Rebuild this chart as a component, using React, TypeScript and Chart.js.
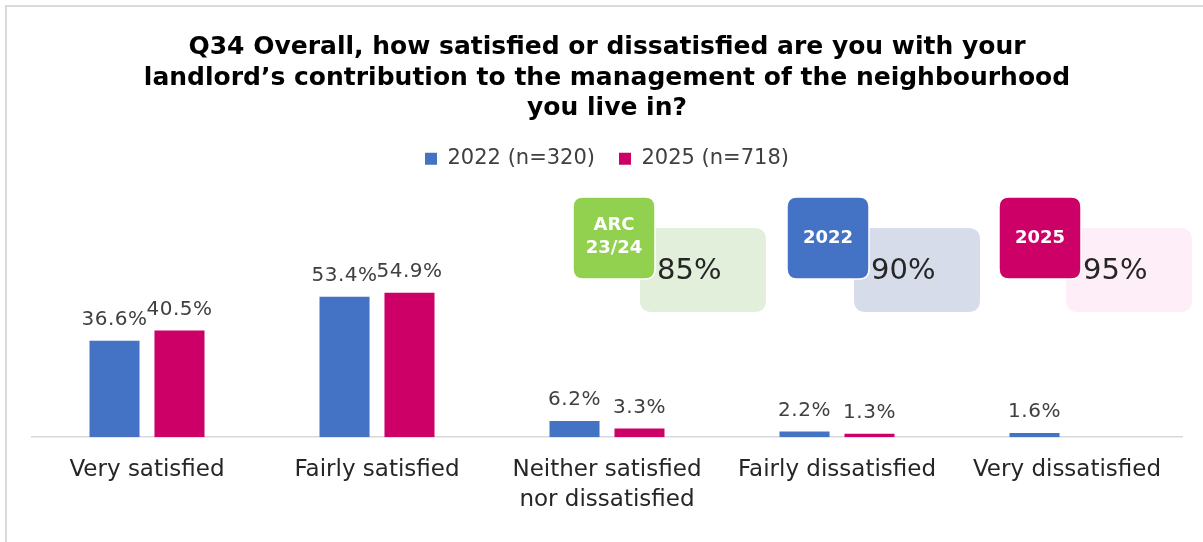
import React, { useEffect, useRef } from "react";
import { Chart, registerables } from "chart.js";

Chart.register(...registerables);

const categories: (string | string[])[] = [
  "Very satisfied",
  "Fairly satisfied",
  ["Neither satisfied", "nor dissatisfied"],
  "Fairly dissatisfied",
  "Very dissatisfied",
];
const values2022: (number | null)[] = [36.6, 53.4, 6.2, 2.2, 1.6];
const values2025: (number | null)[] = [40.5, 54.9, 3.3, 1.3, null];
const seriesLabels = ["2022 (n=320)", "2025 (n=718)"];
const seriesColors = ["#4472C4", "#CC0066"];
const titleLines = [
  "Q34 Overall, how satisfied or dissatisfied are you with your",
  "landlord\u2019s contribution to the management of the neighbourhood",
  "you live in?",
];
const badgeLabels = [["ARC", "23/24"], ["2022"], ["2025"]];
const badgeValues = ["85%", "90%", "95%"];
const badgeDark = ["#92D050", "#4472C4", "#CC0066"];
const badgeLight = ["#E2EFDA", "#D6DCE9", "#FDEEF7"];
const badgeOffsets = [541, 755, 967];

const FONT = "'DejaVu Sans', sans-serif";

function roundRect(ctx: CanvasRenderingContext2D, x: number, y: number, w: number, h: number, r: number) {
  ctx.beginPath();
  ctx.moveTo(x + r, y);
  ctx.lineTo(x + w - r, y);
  ctx.quadraticCurveTo(x + w, y, x + w, y + r);
  ctx.lineTo(x + w, y + h - r);
  ctx.quadraticCurveTo(x + w, y + h, x + w - r, y + h);
  ctx.lineTo(x + r, y + h);
  ctx.quadraticCurveTo(x, y + h, x, y + h - r);
  ctx.lineTo(x, y + r);
  ctx.quadraticCurveTo(x, y, x + r, y);
  ctx.closePath();
}

const extrasPlugin = {
  id: "extras",
  beforeDraw(chart: any) {
    const ctx = chart.ctx as CanvasRenderingContext2D;
    ctx.save();
    ctx.fillStyle = "#ffffff";
    ctx.fillRect(0, 0, chart.width, chart.height);
    ctx.strokeStyle = "#D9D9D9";
    ctx.lineWidth = 2;
    ctx.beginPath();
    ctx.moveTo(6, chart.height);
    ctx.lineTo(6, 6);
    ctx.lineTo(chart.width, 6);
    ctx.stroke();
    ctx.restore();
  },
  afterDatasetsDraw(chart: any) {
    const ctx = chart.ctx as CanvasRenderingContext2D;
    ctx.save();
    // value labels
    ctx.font = `20px ${FONT}`;
    (ctx as any).letterSpacing = "0.5px";
    ctx.fillStyle = "#404040";
    ctx.textAlign = "center";
    ctx.textBaseline = "bottom";
    chart.data.datasets.forEach((ds: any, di: number) => {
      const meta = chart.getDatasetMeta(di);
      meta.data.forEach((bar: any, i: number) => {
        const v = ds.data[i];
        if (v === null || v === undefined) return;
        ctx.fillText(v.toFixed(1) + "%", bar.x, bar.y - 11);
      });
    });
    (ctx as any).letterSpacing = "0px";
    // badges
    const area = chart.chartArea;
    for (let k = 0; k < 3; k++) {
      const dx = area.left + badgeOffsets[k];
      const dy = 197;
      ctx.fillStyle = badgeLight[k];
      roundRect(ctx, dx + 67, 228, 126, 84, 12);
      ctx.fill();
      ctx.fillStyle = badgeDark[k];
      ctx.strokeStyle = "#ffffff";
      ctx.lineWidth = 1.5;
      roundRect(ctx, dx, dy, 82, 82, 10);
      ctx.fill();
      ctx.stroke();
      ctx.fillStyle = "#ffffff";
      ctx.font = `bold 18px ${FONT}`;
      ctx.textAlign = "center";
      ctx.textBaseline = "middle";
      const lines = badgeLabels[k];
      if (lines.length === 2) {
        ctx.fillText(lines[0], dx + 41, dy + 28);
        ctx.fillText(lines[1], dx + 41, dy + 51);
      } else {
        ctx.fillText(lines[0], dx + 41, dy + 41);
      }
      ctx.fillStyle = "#262626";
      ctx.font = `29px ${FONT}`;
      ctx.textAlign = "left";
      ctx.fillText(badgeValues[k], dx + 84, 271);
    }
    ctx.restore();
  },
};

export default function App() {
  const ref = useRef<HTMLCanvasElement | null>(null);
  useEffect(() => {
    if (!ref.current) return;
    const chart = new Chart(ref.current, {
      type: "bar",
      data: {
        labels: categories,
        datasets: [
          {
            label: seriesLabels[0],
            data: values2022,
            backgroundColor: seriesColors[0],
            borderWidth: 0,
            categoryPercentage: 0.565,
            barPercentage: 0.77,
          },
          {
            label: seriesLabels[1],
            data: values2025,
            backgroundColor: seriesColors[1],
            borderWidth: 0,
            categoryPercentage: 0.565,
            barPercentage: 0.77,
          },
        ],
      },
      options: {
        animation: false,
        responsive: false,
        maintainAspectRatio: false,
        layout: { padding: { left: 32, right: 21, top: 32, bottom: 9 } },
        plugins: {
          title: {
            display: true,
            text: titleLines,
            color: "#000000",
            font: { family: FONT, size: 25, weight: "bold", lineHeight: 1.23 },
            padding: { top: 0, bottom: 0 },
          },
          legend: {
            display: true,
            position: "top",
            labels: {
              boxWidth: 12,
              boxHeight: 12,
              color: "#404040",
              font: { family: FONT, size: 21 },
              padding: 24,
            },
          },
          tooltip: { enabled: false },
        },
        scales: {
          x: {
            grid: { display: false, drawTicks: false },
            border: { display: true, color: "#D9D9D9", width: 1.5 },
            ticks: {
              color: "#262626",
              font: { family: FONT, size: 23, lineHeight: 1.3 },
              padding: 18,
              maxRotation: 0,
              autoSkip: false,
            },
          },
          y: {
            display: false,
            min: 0,
            max: 98,
          },
        },
      },
      plugins: [extrasPlugin],
    });
    return () => chart.destroy();
  }, []);
  return (
    <div style={{ position: "fixed", left: 0, top: 0, width: 1203, height: 542 }}>
      <canvas ref={ref} width={1203} height={542} style={{ width: 1203, height: 542 }} />
    </div>
  );
}
